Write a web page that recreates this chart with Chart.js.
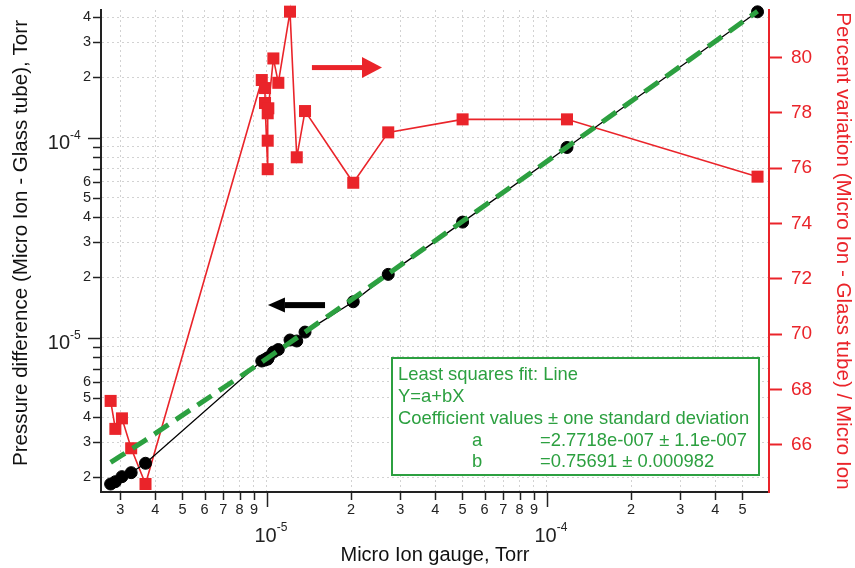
<!DOCTYPE html>
<html>
<head>
<meta charset="utf-8">
<title>Micro Ion gauge vs glass tube</title>
<script src="https://cdn.jsdelivr.net/npm/chart.js@4.4.1/dist/chart.umd.min.js"></script>
<style>
  html, body { margin: 0; padding: 0; background: #fff; }
  #wrap { width: 855px; height: 568px; }
</style>
</head>
<body>
<div id="wrap"><canvas id="grafico" width="855" height="568"></canvas></div>
<script>
// ==================== DATA ====================
// Micro Ion gauge reading (Torr), shared x for both series
const microIon = [
  2.77e-6, 2.88e-6, 3.04e-6, 3.28e-6, 3.69e-6,
  9.60e-6, 9.86e-6, 9.86e-6, 1.008e-5, 1.008e-5, 1.008e-5, 1.013e-5,
  1.056e-5, 1.100e-5, 1.211e-5, 1.280e-5, 1.370e-5,
  2.037e-5, 2.716e-5, 5.006e-5, 1.181e-4, 5.66e-4
];
// Micro Ion - Glass tube (Torr), left axis
const pressureDiff = [
  1.851e-6, 1.901e-6, 2.014e-6, 2.109e-6, 2.350e-6,
  7.63e-6, 7.72e-6, 7.76e-6, 7.80e-6, 7.85e-6, 7.89e-6, 7.94e-6,
  8.46e-6, 8.71e-6, 9.72e-6, 9.61e-6, 1.065e-5,
  1.510e-5, 2.07e-5, 3.78e-5, 8.93e-5, 4.26e-4
];
// percent variation, right axis
const percentVar = [
  67.59, 66.58, 66.96, 65.88, 64.59,
  79.18, 78.89, 78.35, 75.96, 76.99, 77.98, 78.16,
  79.96, 79.08, 81.65, 76.39, 78.06,
  75.47, 77.29, 77.76, 77.76, 75.69
];
// line fit coefficients (Y = a + bX)
const fitA = 2.7718e-7;
const fitB = 0.75691;

const xTicks = [3e-6, 4e-6, 5e-6, 6e-6, 7e-6, 8e-6, 9e-6, 1e-5,
  2e-5, 3e-5, 4e-5, 5e-5, 6e-5, 7e-5, 8e-5, 9e-5, 1e-4, 2e-4, 3e-4, 4e-4, 5e-4];
const yTicks = [2e-6, 3e-6, 4e-6, 5e-6, 6e-6, 7e-6, 8e-6, 9e-6, 1e-5,
  2e-5, 3e-5, 4e-5, 5e-5, 6e-5, 7e-5, 8e-5, 9e-5, 1e-4, 2e-4, 3e-4, 4e-4];
const pctTicks = [66, 68, 70, 72, 74, 76, 78, 80];

const fitText = [
  'Least squares fit: Line',
  'Y=a+bX',
  'Coefficient values \u00b1 one standard deviation'
];
const fitCoefs = [
  ['a', '=2.7718e-007 \u00b1 1.1e-007'],
  ['b', '=0.75691 \u00b1 0.000982']
];

// ==================== STYLE ====================
const FONT = '"Liberation Sans", Arial, sans-serif';
const RED = 'rgb(234,36,42)';
const GREEN = 'rgb(44,160,64)';
const INK = '#222';

function mantissa(v) {
  const e = Math.floor(Math.log10(v) + 1e-9);
  return { m: Math.round(v / Math.pow(10, e)), e: e };
}

// no extra room for edge labels: the plot box is fixed
function noPad(s) {
  s.paddingTop = 0; s.paddingBottom = 0; s.paddingLeft = 0; s.paddingRight = 0;
}

// ==================== ANNOTATIONS ====================
function drawArrow(ctx, x0, x1, y, shaft, headLen, headHalf, color) {
  const dir = Math.sign(x1 - x0);
  const base = x1 - dir * headLen;
  ctx.fillStyle = color;
  ctx.fillRect(Math.min(x0, base), y - shaft / 2, Math.abs(base - x0), shaft);
  ctx.beginPath();
  ctx.moveTo(x1, y);
  ctx.lineTo(base, y - headHalf);
  ctx.lineTo(base, y + headHalf);
  ctx.closePath();
  ctx.fill();
}

const decorations = {
  id: 'decorations',
  afterDatasetsDraw(chart) {
    const { ctx, chartArea: area } = chart;
    const sx = chart.scales.x, sy = chart.scales.y, sr = chart.scales.yR;
    ctx.save();
    // arrows pointing at each series' axis
    drawArrow(ctx, sx.getPixelForValue(1.45e-5), sx.getPixelForValue(2.58e-5),
      sr.getPixelForValue(79.63), 5, 20, 10.5, RED);
    drawArrow(ctx, sx.getPixelForValue(1.615e-5), sx.getPixelForValue(1.01e-5),
      sy.getPixelForValue(1.453e-5), 6, 17, 7.5, '#000');

    // fit result box
    const bx = area.right - 377, by = area.bottom - 134, bw = 367, bh = 117;
    ctx.fillStyle = '#fff';
    ctx.fillRect(bx, by, bw, bh);
    ctx.strokeStyle = GREEN;
    ctx.lineWidth = 2;
    ctx.strokeRect(bx, by, bw, bh);
    ctx.fillStyle = GREEN;
    ctx.font = '18.4px ' + FONT;
    ctx.textAlign = 'left';
    ctx.textBaseline = 'alphabetic';
    fitText.forEach((t, i) => ctx.fillText(t, bx + 6, by + 22 + i * 22));
    fitCoefs.forEach((c, i) => {
      ctx.fillText(c[0], bx + 80, by + 88 + i * 21);
      ctx.fillText(c[1], bx + 148, by + 88 + i * 21);
    });
    ctx.restore();
  },
  afterDraw(chart) {
    const { ctx, chartArea: area } = chart;
    const sx = chart.scales.x, sy = chart.scales.y;
    ctx.save();
    ctx.strokeStyle = INK;
    ctx.lineWidth = 1.5;
    // tick marks, longer at each decade
    xTicks.forEach(v => {
      const p = Math.round(sx.getPixelForValue(v)) + 0.5;
      const major = mantissa(v).m === 1;
      ctx.beginPath();
      ctx.moveTo(p, area.bottom + 1);
      ctx.lineTo(p, area.bottom + (major ? 15 : 8));
      ctx.stroke();
    });
    yTicks.forEach(v => {
      const p = Math.round(sy.getPixelForValue(v)) + 0.5;
      const major = mantissa(v).m === 1;
      ctx.beginPath();
      ctx.moveTo(area.left - 1, p);
      ctx.lineTo(area.left - (major ? 13 : 8), p);
      ctx.stroke();
    });

    // decade labels as 10 with a raised exponent
    ctx.fillStyle = INK;
    ctx.textBaseline = 'alphabetic';
    xTicks.filter(v => mantissa(v).m === 1).forEach(v => {
      const p = sx.getPixelForValue(v);
      ctx.font = '20px ' + FONT;
      ctx.textAlign = 'right';
      ctx.fillText('10', p + 10, area.bottom + 50);
      ctx.font = '12px ' + FONT;
      ctx.textAlign = 'left';
      ctx.fillText(String(mantissa(v).e), p + 10, area.bottom + 39);
    });
    yTicks.filter(v => mantissa(v).m === 1).forEach(v => {
      const p = sy.getPixelForValue(v);
      ctx.font = '20px ' + FONT;
      ctx.textAlign = 'right';
      ctx.fillText('10', area.left - 31, p + 11);
      ctx.font = '12px ' + FONT;
      ctx.textAlign = 'left';
      ctx.fillText(String(mantissa(v).e), area.left - 31, p + 1);
    });

    // left axis title
    ctx.translate(21, 243);
    ctx.rotate(-Math.PI / 2);
    ctx.font = '20.6px ' + FONT;
    ctx.textAlign = 'center';
    ctx.textBaseline = 'middle';
    ctx.fillStyle = '#111';
    ctx.fillText('Pressure difference (Micro Ion - Glass tube), Torr', 0, 0);
    ctx.restore();
  }
};

// ==================== CHART ====================
const pts = (ys) => microIon.map((x, i) => ({ x: x, y: ys[i] }));
const fitLine = microIon.map(x => fitA + fitB * x);

const ctx = document.getElementById('grafico').getContext('2d');
new Chart(ctx, {
  type: 'line',
  data: {
    datasets: [
      {
        label: 'fit',
        data: pts(fitLine),
        yAxisID: 'y',
        borderColor: GREEN,
        borderWidth: 5,
        borderDash: [17, 9],
        pointRadius: 0,
        fill: false,
        clip: false,
        order: 0
      },
      {
        label: 'Micro Ion - Glass tube',
        data: pts(pressureDiff),
        yAxisID: 'y',
        borderColor: '#000',
        borderWidth: 1.3,
        pointRadius: 6,
        pointBackgroundColor: '#000',
        pointBorderColor: '#000',
        pointBorderWidth: 1,
        fill: false,
        clip: false,
        order: 1
      },
      {
        label: 'Percent variation',
        data: pts(percentVar),
        yAxisID: 'yR',
        borderColor: RED,
        borderWidth: 1.6,
        pointStyle: 'rect',
        pointRadius: 8.5,
        pointBackgroundColor: RED,
        pointBorderColor: RED,
        pointBorderWidth: 0,
        fill: false,
        clip: false,
        order: 2
      }
    ]
  },
  options: {
    responsive: false,
    animation: false,
    layout: { padding: { top: 10, left: 0, right: 0, bottom: 0 } },
    plugins: { legend: { display: false }, tooltip: { enabled: false } },
    scales: {
      x: {
        type: 'logarithmic',
        position: 'bottom',
        min: 2.559e-6,
        max: 6.22e-4,
        afterBuildTicks: s => { s.ticks = xTicks.map(v => ({ value: v })); },
        afterFit: s => { s.height = 76; noPad(s); },
        ticks: {
          autoSkip: false, maxRotation: 0, minRotation: 0, padding: 9,
          color: INK, font: { family: FONT, size: 14.5 },
          callback: v => { const m = mantissa(v).m; return m === 1 ? '' : String(m); }
        },
        grid: { color: '#d2d2d2', lineWidth: 1, drawTicks: false },
        border: { color: INK, width: 2, dash: [2, 3] },
        title: {
          display: true, text: 'Micro Ion gauge, Torr', color: '#111',
          font: { family: FONT, size: 20 }, padding: { top: 0, bottom: 1 }
        }
      },
      y: {
        type: 'logarithmic',
        position: 'left',
        min: 1.688e-6,
        max: 4.35e-4,
        afterBuildTicks: s => { s.ticks = yTicks.map(v => ({ value: v })); },
        afterFit: s => { s.width = 101; noPad(s); },
        ticks: {
          autoSkip: false, padding: 10,
          color: INK, font: { family: FONT, size: 14.5 },
          callback: v => { const m = mantissa(v).m; return (m >= 2 && m <= 6) ? String(m) : ''; }
        },
        grid: { color: '#d2d2d2', lineWidth: 1, drawTicks: false },
        border: { color: INK, width: 2, dash: [2, 3] }
      },
      yR: {
        type: 'linear',
        position: 'right',
        min: 64.30,
        max: 81.71,
        afterBuildTicks: s => { s.ticks = pctTicks.map(v => ({ value: v })); },
        afterFit: s => { s.width = 86; noPad(s); },
        ticks: {
          padding: 9, color: RED, font: { family: FONT, size: 19 }
        },
        grid: {
          drawOnChartArea: false, drawTicks: true,
          tickLength: 13, tickColor: RED, tickWidth: 2
        },
        border: { color: RED, width: 2 },
        title: {
          display: true, text: 'Percent variation (Micro Ion - Glass tube) / Micro Ion',
          color: RED, font: { family: FONT, size: 20.6 }, padding: { top: 0, bottom: 0 }
        }
      }
    }
  },
  plugins: [decorations]
});
</script>
</body>
</html>
